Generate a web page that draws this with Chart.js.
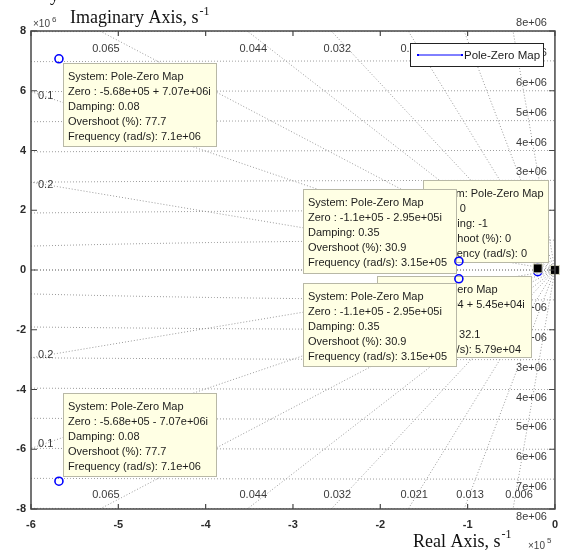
<!DOCTYPE html>
<html>
<head>
<meta charset="utf-8">
<script src="https://cdn.jsdelivr.net/npm/chart.js@4/dist/chart.umd.min.js"></script>
<style>
  html, body { margin: 0; padding: 0; background: #fff; }
  #wrap { width: 567px; height: 550px; }
</style>
</head>
<body>
<div id="wrap"><canvas id="pzChart" width="567" height="550"></canvas></div>
<script>
// Zeros of the system (real / imaginary parts, rad/s)
const zeroRe = [-5.68e5, -5.68e5, -1.1e5, -1.1e5, -1.97e4, -1.97e4, 0];
const zeroIm = [7.07e6, -7.07e6, 2.95e5, -2.95e5, 5.45e4, -5.45e4, 0];

// Data tip markers (black squares)
const markerRe = [-1.97e4, 0];
const markerIm = [5.45e4, 0];

// sgrid: damping rays and natural frequency circles
const dampingValues = [0.006, 0.013, 0.021, 0.032, 0.044, 0.065, 0.1, 0.2];
const dampingLabels = ['0.006', '0.013', '0.021', '0.032', '0.044', '0.065', '0.1', '0.2'];
const wnValues = [1e6, 2e6, 3e6, 4e6, 5e6, 6e6, 7e6, 8e6];
const wnLabels = ['1e+06', '2e+06', '3e+06', '4e+06', '5e+06', '6e+06', '7e+06', '8e+06'];

// Axis ranges / tick steps
const xRange = [-6e5, 0];
const yRange = [-8e6, 8e6];
const xStep = 1e5;
const yStep = 2e6;

// Data tip texts (in drawing order of TIP_BOXES below)
const tipZero = ['-5.68e+05 + 7.07e+06i', '-5.68e+05 - 7.07e+06i', '0',
  '-1.97e+04 + 5.45e+04i', '-1.1e+05 - 2.95e+05i', '-1.1e+05 - 2.95e+05i'];
const tipDamping = ['0.08', '0.08', '-1', '0.34', '0.35', '0.35'];
const tipOvershoot = ['77.7', '77.7', '0', '32.1', '30.9', '30.9'];
const tipFrequency = ['7.1e+06', '7.1e+06', '0', '5.79e+04', '3.15e+05', '3.15e+05'];

// Pixel boxes of the data tips (layout only)
const TIP_BOXES = [
  { x: 63, y: 63, w: 154, h: 84 },
  { x: 63, y: 393, w: 154, h: 84 },
  { x: 423, y: 180, w: 126, h: 83 },
  { x: 377, y: 276, w: 155, h: 82 },
  { x: 303, y: 189, w: 154, h: 85 },
  { x: 303, y: 283, w: 154, h: 84 },
];

const SANS = '"Liberation Sans", Arial, sans-serif';
const SERIF = '"Liberation Serif", "Times New Roman", serif';
const GRID_COLOR = '#9a9a9a';

function toPoints(re, im) {
  return re.map(function (v, i) { return { x: v, y: im[i] }; });
}

function rayY(zeta, x) {
  return -x * Math.sqrt(1 - zeta * zeta) / zeta;
}

// Plugin: sgrid lines + labels, frame with inward ticks, data tips
Chart.register({
  id: 'sgrid',
  beforeDatasetsDraw: function (chart) {
    const ctx = chart.ctx;
    const a = chart.chartArea;
    const xs = chart.scales.x;
    const ys = chart.scales.y;
    const px = function (v) { return xs.getPixelForValue(v); };
    const py = function (v) { return ys.getPixelForValue(v); };

    ctx.save();
    ctx.beginPath();
    ctx.rect(a.left, a.top, a.right - a.left, a.bottom - a.top);
    ctx.clip();
    ctx.lineWidth = 1;
    ctx.setLineDash([1, 2]);
    ctx.strokeStyle = GRID_COLOR;

    // natural frequency circles
    wnValues.forEach(function (wn) {
      [1, -1].forEach(function (s) {
        ctx.beginPath();
        const x0 = Math.max(-wn, xRange[0]);
        for (let k = 0; k <= 200; k++) {
          const x = x0 + (0 - x0) * k / 200;
          const y = s * Math.sqrt(Math.max(wn * wn - x * x, 0));
          if (k === 0) ctx.moveTo(px(x), py(y));
          else ctx.lineTo(px(x), py(y));
        }
        ctx.stroke();
      });
    });

    // damping rays
    dampingValues.forEach(function (z) {
      [1, -1].forEach(function (s) {
        ctx.beginPath();
        ctx.moveTo(px(0), py(0));
        ctx.lineTo(px(xRange[0]), py(s * rayY(z, xRange[0])));
        ctx.stroke();
      });
    });

    // real axis
    ctx.strokeStyle = '#555';
    ctx.beginPath();
    ctx.moveTo(a.left, py(0));
    ctx.lineTo(a.right, py(0));
    ctx.stroke();
    ctx.restore();

    ctx.save();
    ctx.font = '11px ' + SANS;
    ctx.fillStyle = '#3a3a3a';
    ctx.textBaseline = 'middle';

    // wn labels on the right
    ctx.textAlign = 'right';
    wnValues.forEach(function (wn, i) {
      ctx.fillText(wnLabels[i], a.right - 8, py(wn) - 8);
      ctx.fillText(wnLabels[i], a.right - 8, py(-wn) + 8);
    });

    // damping labels on top/bottom or left edge
    dampingValues.forEach(function (z, i) {
      const yAtLeft = rayY(z, xRange[0]);
      if (yAtLeft > yRange[1]) {
        const xTop = -yRange[1] * z / Math.sqrt(1 - z * z);
        ctx.textAlign = 'center';
        ctx.fillText(dampingLabels[i], px(xTop) + 6, a.top + 18);
        ctx.fillText(dampingLabels[i], px(xTop) + 6, a.bottom - 14);
      } else {
        const xl = xs.getValueForPixel(a.left + 14);
        ctx.textAlign = 'left';
        ctx.fillText(dampingLabels[i], a.left + 7, py(rayY(z, xl)));
        ctx.fillText(dampingLabels[i], a.left + 7, py(-rayY(z, xl)));
      }
    });
    ctx.restore();

    // data tips
    ctx.save();
    ctx.font = '11px ' + SANS;
    ctx.textBaseline = 'middle';
    ctx.textAlign = 'left';
    TIP_BOXES.forEach(function (b, i) {
      ctx.fillStyle = '#ffffe4';
      ctx.fillRect(b.x, b.y, b.w, b.h);
      ctx.strokeStyle = '#b8b8a6';
      ctx.lineWidth = 1;
      ctx.strokeRect(b.x + 0.5, b.y + 0.5, b.w - 1, b.h - 1);
      const lines = [
        'System: Pole-Zero Map',
        'Zero : ' + tipZero[i],
        'Damping: ' + tipDamping[i],
        'Overshoot (%): ' + tipOvershoot[i],
        'Frequency (rad/s): ' + tipFrequency[i],
      ];
      ctx.fillStyle = '#1c1c1c';
      lines.forEach(function (t, j) {
        ctx.fillText(t, b.x + 5, b.y + 13.5 + j * 15.2);
      });
    });
    ctx.restore();
  },
  afterDraw: function (chart) {
    const ctx = chart.ctx;
    const a = chart.chartArea;
    const xs = chart.scales.x;
    const ys = chart.scales.y;

    // frame + inward ticks
    ctx.save();
    ctx.strokeStyle = '#474747';
    ctx.lineWidth = 1.5;
    ctx.strokeRect(a.left, a.top, a.right - a.left, a.bottom - a.top);
    ctx.lineWidth = 1.2;
    ctx.beginPath();
    for (let v = xRange[0]; v <= xRange[1] + 1; v += xStep) {
      const x = xs.getPixelForValue(v);
      ctx.moveTo(x, a.top); ctx.lineTo(x, a.top + 5);
      ctx.moveTo(x, a.bottom); ctx.lineTo(x, a.bottom - 5);
    }
    for (let v = yRange[0]; v <= yRange[1] + 1; v += yStep) {
      const y = ys.getPixelForValue(v);
      ctx.moveTo(a.left, y); ctx.lineTo(a.left + 6, y);
      ctx.moveTo(a.right, y); ctx.lineTo(a.right - 6, y);
    }
    ctx.stroke();
    ctx.restore();

    // legend
    ctx.save();
    const lg = { x: 410, y: 43, w: 134, h: 24 };
    ctx.fillStyle = '#fff';
    ctx.fillRect(lg.x, lg.y, lg.w, lg.h);
    ctx.strokeStyle = '#222';
    ctx.lineWidth = 1;
    ctx.strokeRect(lg.x + 0.5, lg.y + 0.5, lg.w - 1, lg.h - 1);
    const ly = lg.y + 12;
    ctx.strokeStyle = '#0000ff';
    ctx.beginPath();
    ctx.moveTo(lg.x + 8, ly);
    ctx.lineTo(lg.x + 52, ly);
    ctx.stroke();
    ctx.fillStyle = '#0000ff';
    ctx.fillRect(lg.x + 7, ly - 1, 2, 2);
    ctx.fillRect(lg.x + 51, ly - 1, 2, 2);
    ctx.fillStyle = '#1c1c1c';
    ctx.font = '11.5px ' + SANS;
    ctx.textBaseline = 'middle';
    ctx.fillText(chart.data.datasets[0].label, lg.x + 54, ly + 0.5);
    ctx.restore();

    // axis titles and exponents
    ctx.save();
    ctx.fillStyle = '#111';
    ctx.textBaseline = 'alphabetic';
    ctx.font = '18px ' + SERIF;
    ctx.fillText('y', 50, 1);
    ctx.fillText('Imaginary Axis, s', 70, 23);
    let w = ctx.measureText('Imaginary Axis, s').width;
    ctx.font = '12px ' + SERIF;
    ctx.fillText('-1', 71 + w, 15);
    ctx.font = '18px ' + SERIF;
    ctx.fillText('Real Axis, s', 413, 547);
    w = ctx.measureText('Real Axis, s').width;
    ctx.font = '12px ' + SERIF;
    ctx.fillText('-1', 414 + w, 538);

    ctx.fillStyle = '#444';
    ctx.font = '10px ' + SANS;
    ctx.fillText('\u00d710', 33, 27);
    ctx.fillText('\u00d710', 528, 549);
    ctx.font = '8px ' + SANS;
    ctx.fillText('6', 52, 22);
    ctx.fillText('5', 547, 543);
    ctx.restore();
  },
});

new Chart(document.getElementById('pzChart'), {
  type: 'scatter',
  data: {
    datasets: [
      {
        label: 'Pole-Zero Map',
        data: toPoints(zeroRe, zeroIm),
        pointStyle: 'circle',
        pointRadius: 4,
        borderColor: '#0000ff',
        backgroundColor: 'rgba(0,0,0,0)',
        borderWidth: 1.6,
        clip: false,
        order: 2,
      },
      {
        label: 'Data tips',
        data: toPoints(markerRe, markerIm),
        pointStyle: 'rect',
        pointRadius: 6.3,
        borderColor: '#d8d8c0',
        backgroundColor: '#000',
        borderWidth: 1,
        clip: false,
        order: 1,
      },
    ],
  },
  options: {
    responsive: false,
    animation: false,
    devicePixelRatio: 1,
    layout: { padding: { top: 31, right: 11, left: 0, bottom: 0 } },
    plugins: { legend: { display: false }, tooltip: { enabled: false } },
    scales: {
      x: {
        type: 'linear',
        min: xRange[0],
        max: xRange[1],
        grid: { display: false, drawTicks: false },
        border: { display: false },
        afterFit: function (s) { s.height = 41; },
        ticks: {
          stepSize: xStep,
          autoSkip: false,
          maxRotation: 0,
          padding: 9,
          color: '#2b2b2b',
          font: { family: SANS, size: 11, weight: 'bold' },
          callback: function (v) { return Math.round(v / 1e5); },
        },
      },
      y: {
        type: 'linear',
        min: yRange[0],
        max: yRange[1],
        grid: { display: false, drawTicks: false },
        border: { display: false },
        afterFit: function (s) { s.width = 31; },
        ticks: {
          stepSize: yStep,
          autoSkip: false,
          padding: 5,
          color: '#2b2b2b',
          font: { family: SANS, size: 11, weight: 'bold' },
          callback: function (v) { return Math.round(v / 1e6); },
        },
      },
    },
  },
});
</script>
</body>
</html>
